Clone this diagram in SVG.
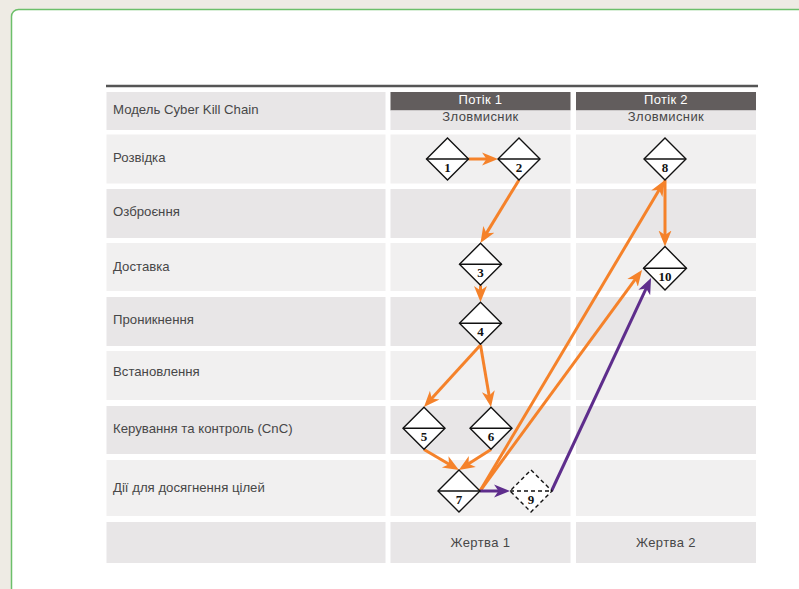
<svg xmlns="http://www.w3.org/2000/svg" width="799" height="589" viewBox="0 0 799 589">
  <style>
    .dark { fill: #e8e6e7; }
    .light { fill: #f1f0f0; }
    .lbl { font-family: "Liberation Sans", Arial, sans-serif; font-size: 13.2px; fill: #474747; }
    .ctr { font-family: "Liberation Sans", Arial, sans-serif; font-size: 13px; fill: #474747; text-anchor: middle; letter-spacing: 0.4px; }
    .hdr { font-family: "Liberation Sans", Arial, sans-serif; font-size: 13px; fill: #ffffff; text-anchor: middle; letter-spacing: 0.3px; }
    .dia { fill: #ffffff; stroke: #111111; stroke-width: 1.4; }
    .mid { stroke: #111111; stroke-width: 1.4; }
    .dash { stroke-dasharray: 4 3; }
    .num { font-family: "Liberation Serif", "Times New Roman", serif; font-weight: bold; font-size: 13px; fill: #111111; text-anchor: middle; }
    .orange { stroke: #f5822a; stroke-width: 3; fill: none; marker-end: url(#headO); }
    .purple { stroke: #5e2d8c; stroke-width: 3; fill: none; marker-end: url(#headP); }
  </style>
  <defs>
    <marker id="headO" markerUnits="userSpaceOnUse" viewBox="0 -8 18 16" markerWidth="18" markerHeight="16" refX="10" refY="0" orient="auto">
      <path d="M0,-6.5 L16,0 L0,6.5 L4.5,0 Z" fill="#f5822a"/>
    </marker>
    <marker id="headP" markerUnits="userSpaceOnUse" viewBox="0 -8 18 16" markerWidth="18" markerHeight="16" refX="10" refY="0" orient="auto">
      <path d="M0,-6.5 L16,0 L0,6.5 L4.5,0 Z" fill="#5e2d8c"/>
    </marker>
  </defs>

  <!-- page background and card -->
  <rect x="0" y="0" width="799" height="589" fill="#eeebe4"/>
  <rect x="11.5" y="9.5" width="800" height="600" rx="7" fill="#ffffff" stroke="#6cbf6a" stroke-width="1.5"/>

  <!-- table -->
  <g id="table">
    <line x1="106" y1="86" x2="758" y2="86" stroke="#555555" stroke-width="2.5"/>

    <!-- header row -->
    <rect class="dark" x="106.5" y="92" width="279" height="38"/>
    <rect x="390.5" y="92" width="180" height="18.5" fill="#625d5d"/>
    <rect class="dark" x="390.5" y="110.5" width="180" height="19.5"/>
    <rect x="576" y="92" width="180" height="18.5" fill="#625d5d"/>
    <rect class="dark" x="576" y="110.5" width="180" height="19.5"/>

    <!-- stage rows -->
    <rect class="light" x="106.5" y="134.5" width="279" height="49"/>
    <rect class="light" x="390.5" y="134.5" width="180" height="49"/>
    <rect class="light" x="576" y="134.5" width="180" height="49"/>

    <rect class="dark" x="106.5" y="189" width="279" height="49"/>
    <rect class="dark" x="390.5" y="189" width="180" height="49"/>
    <rect class="dark" x="576" y="189" width="180" height="49"/>

    <rect class="light" x="106.5" y="243" width="279" height="48"/>
    <rect class="light" x="390.5" y="243" width="180" height="48"/>
    <rect class="light" x="576" y="243" width="180" height="48"/>

    <rect class="dark" x="106.5" y="297" width="279" height="49"/>
    <rect class="dark" x="390.5" y="297" width="180" height="49"/>
    <rect class="dark" x="576" y="297" width="180" height="49"/>

    <rect class="light" x="106.5" y="351" width="279" height="49"/>
    <rect class="light" x="390.5" y="351" width="180" height="49"/>
    <rect class="light" x="576" y="351" width="180" height="49"/>

    <rect class="dark" x="106.5" y="406" width="279" height="48"/>
    <rect class="dark" x="390.5" y="406" width="180" height="48"/>
    <rect class="dark" x="576" y="406" width="180" height="48"/>

    <rect class="light" x="106.5" y="460" width="279" height="56"/>
    <rect class="light" x="390.5" y="460" width="180" height="56"/>
    <rect class="light" x="576" y="460" width="180" height="56"/>

    <rect class="dark" x="106.5" y="522" width="279" height="41"/>
    <rect class="dark" x="390.5" y="522" width="180" height="41"/>
    <rect class="dark" x="576" y="522" width="180" height="41"/>

    <!-- stage labels -->
    <text class="lbl" x="113" y="114">Модель Cyber Kill Chain</text>
    <text class="lbl" x="113" y="162">Розвідка</text>
    <text class="lbl" x="113" y="216">Озброєння</text>
    <text class="lbl" x="113" y="271">Доставка</text>
    <text class="lbl" x="113" y="324">Проникнення</text>
    <text class="lbl" x="113" y="376">Встановлення</text>
    <text class="lbl" x="113" y="433">Керування та контроль (CnC)</text>
    <text class="lbl" x="113" y="492">Дії для досягнення цілей</text>

    <text class="hdr" x="480.5" y="104">Потік 1</text>
    <text class="ctr" x="480.5" y="121">Зловмисник</text>
    <text class="hdr" x="666" y="104">Потік 2</text>
    <text class="ctr" x="666" y="121">Зловмисник</text>

    <text class="ctr" x="480.5" y="547">Жертва 1</text>
    <text class="ctr" x="666" y="547">Жертва 2</text>
  </g>

  <!-- connectors -->
  <g id="connectors">
    <line class="orange" x1="468.5" y1="159" x2="492" y2="159"/>
    <line class="orange" x1="519" y1="180" x2="483.6" y2="237.9"/>
    <line class="orange" x1="480.5" y1="285.5" x2="480.5" y2="296"/>
    <line class="orange" x1="480.5" y1="345" x2="428" y2="402.6"/>
    <line class="orange" x1="480.5" y1="345" x2="490" y2="401.1"/>
    <line class="orange" x1="424" y1="449.5" x2="453.8" y2="467"/>
    <line class="orange" x1="491" y1="449.5" x2="463.9" y2="466.8"/>
    <line class="orange" x1="480" y1="491" x2="661.9" y2="185.2"/>
    <line class="orange" x1="480" y1="491" x2="638.5" y2="274.8"/>
    <line class="orange" x1="665" y1="180" x2="665" y2="240.5"/>
    <line class="purple" x1="480" y1="491" x2="504" y2="491"/>
    <line class="purple" x1="551.5" y1="491" x2="648.5" y2="283.4"/>
  </g>

  <!-- nodes -->
  <g id="node1">
    <polygon class="dia" points="447.5,138 468.5,159 447.5,180 426.5,159"/>
    <line class="mid" x1="426.5" y1="159" x2="468.5" y2="159"/>
    <text class="num" x="447.5" y="172">1</text>
  </g>
  <g id="node2">
    <polygon class="dia" points="519,138 540,159 519,180 498,159"/>
    <line class="mid" x1="498" y1="159" x2="540" y2="159"/>
    <text class="num" x="519" y="172">2</text>
  </g>
  <g id="node3">
    <polygon class="dia" points="480.5,243.3 501.5,264.3 480.5,285.3 459.5,264.3"/>
    <line class="mid" x1="459.5" y1="264.3" x2="501.5" y2="264.3"/>
    <text class="num" x="480.5" y="277">3</text>
  </g>
  <g id="node4">
    <polygon class="dia" points="480.5,302.3 501.5,323.3 480.5,344.3 459.5,323.3"/>
    <line class="mid" x1="459.5" y1="323.3" x2="501.5" y2="323.3"/>
    <text class="num" x="480.5" y="336">4</text>
  </g>
  <g id="node5">
    <polygon class="dia" points="424,407.3 445,428.3 424,449.3 403,428.3"/>
    <line class="mid" x1="403" y1="428.3" x2="445" y2="428.3"/>
    <text class="num" x="424" y="441">5</text>
  </g>
  <g id="node6">
    <polygon class="dia" points="491,407.3 512,428.3 491,449.3 470,428.3"/>
    <line class="mid" x1="470" y1="428.3" x2="512" y2="428.3"/>
    <text class="num" x="491" y="441">6</text>
  </g>
  <g id="node7">
    <polygon class="dia" points="459,470 480,491 459,512 438,491"/>
    <line class="mid" x1="438" y1="491" x2="480" y2="491"/>
    <text class="num" x="459" y="504">7</text>
  </g>
  <g id="node9">
    <polygon class="dia dash" points="531,470 552,491 531,512 510,491"/>
    <line class="mid dash" x1="510" y1="491" x2="552" y2="491"/>
    <text class="num" x="531" y="504">9</text>
  </g>
  <g id="node8">
    <polygon class="dia" points="665,138 686,159 665,180 644,159"/>
    <line class="mid" x1="644" y1="159" x2="686" y2="159"/>
    <text class="num" x="665" y="172">8</text>
  </g>
  <g id="node10">
    <polygon class="dia" points="665,246.5 686.5,268.3 665,290 643.5,268.3"/>
    <line class="mid" x1="643.5" y1="268.3" x2="686.5" y2="268.3"/>
    <text class="num" x="665" y="281">10</text>
  </g>
</svg>
